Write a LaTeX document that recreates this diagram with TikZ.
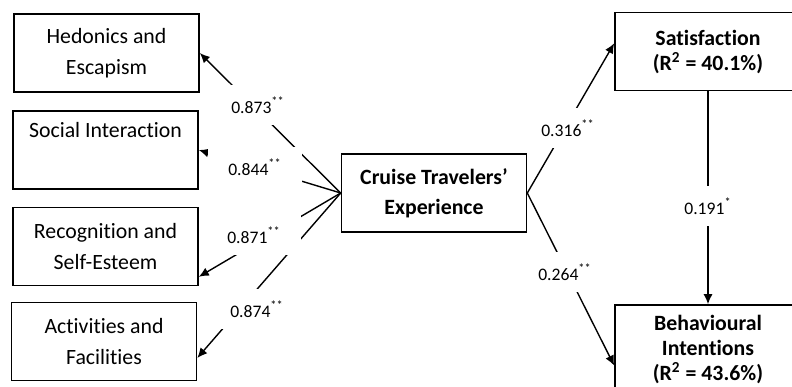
\documentclass[tikz,border=0pt]{standalone}
\usepackage{fontspec}
\setmainfont{Carlito}[Ligatures={NoCommon,NoContextual,NoRare}]
\usetikzlibrary{arrows.meta}

\begin{document}
\begin{tikzpicture}[x=0.5pt,y=-0.5pt,-{Latex[length=5pt,width=4.5pt]},line width=0.7pt,
		every node/.style={font=\fontsize{10.9}{15.5}\selectfont}]
		\tikzstyle{Box}=[draw,line width=0.8pt,align=center,minimum width=92.5pt,minimum height=39pt,inner sep=0pt]
		\tikzstyle{Coef}=[fill=white,minimum width=47pt,minimum height=20pt,inner sep=0pt,font=\fontsize{8.8}{10}\selectfont]

		\clip (0,0) rectangle (792,386);

		% outcomes of the experience
		\node at (106.5,53) [Box] (hedon) {Hedonics and\\Escapism};
		\node at (105.5,150) [Box] (social) {Social Interaction\\\strut};
		\node at (105.5,246.5) [Box] (recog) {Recognition and\\Self-Esteem};
		\node at (104,341.5) [Box] (activ) {Activities and\\Facilities};

		\node at (434,193) [Box,font=\fontsize{10.9}{15}\selectfont\bfseries] (exper) {Cruise Travelers'\\Experience};

		\node at (708,51.5) [Box,minimum width=93pt,font=\fontsize{10.9}{12.5}\selectfont\bfseries] (satis) {Satisfaction\\(R\textsuperscript{2} = 40.1\%)};
		\node at (708,349) [Box,minimum width=93pt,minimum height=44pt,font=\fontsize{10.9}{12.5}\selectfont\bfseries] (behav) {Behavioural\\Intentions\\(R\textsuperscript{2} = 43.6\%)};

		\path
		(exper.west) edge (hedon.east)
		(exper.west) edge (social.east)
		(exper.west) edge (recog.-18)
		(exper.west) edge (activ.-10)
		(exper.east) edge (satis.175)
		(exper.east) edge (behav.190)
		(satis.south) edge (behav.north);

		% path coefficients
		\node[Coef] at (258,105) (c1) {0.873\textsuperscript{**}};
		\node[Coef] at (255,167) (c2) {0.844\textsuperscript{**}};
		\node[Coef] at (254,235) (c3) {0.871\textsuperscript{**}};
		\node[Coef] at (257,309) (c4) {0.874\textsuperscript{**}};
		\node[Coef] at (568,128) (c5) {0.316\textsuperscript{**}};
		\node[Coef] at (565,272) (c6) {0.264\textsuperscript{**}};
		\node[Coef] at (708,206) (c7) {0.191\textsuperscript{*}};
	\end{tikzpicture}
\end{document}
